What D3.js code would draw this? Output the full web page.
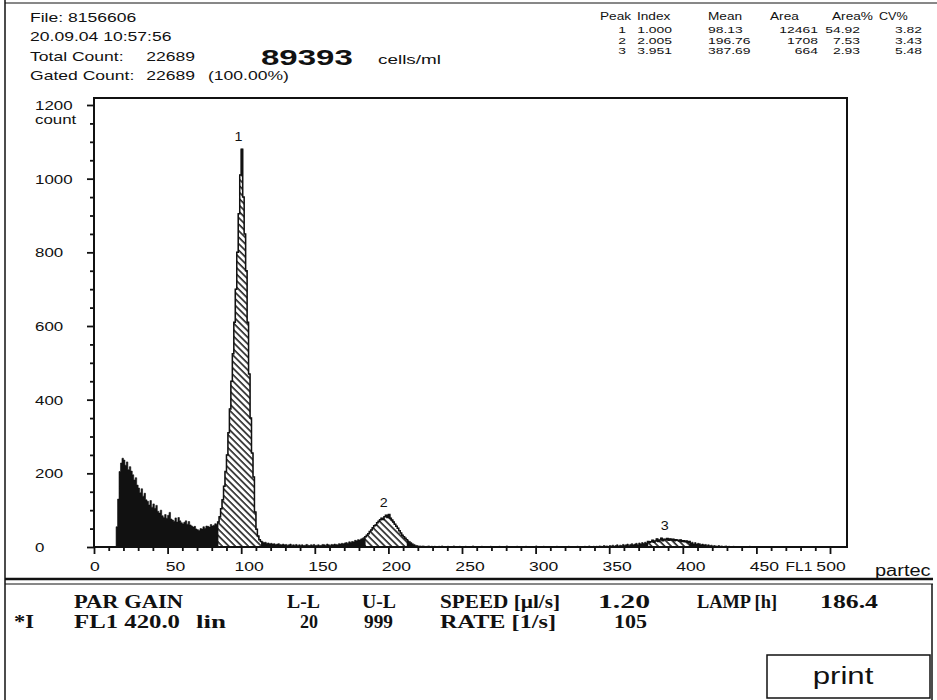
<!DOCTYPE html>
<html>
<head>
<meta charset="utf-8">
<script src="https://cdnjs.cloudflare.com/ajax/libs/d3/7.8.5/d3.min.js"></script>
<style>
  html, body { margin: 0; padding: 0; background: #fff; }
  svg { display: block; }
</style>
</head>
<body>
<svg id="chart" width="937" height="700"></svg>
<script>
// FL1 histogram, one count per channel, starting at FIRST_CHANNEL
const FIRST_CHANNEL = 14;

// debris (ch 14-83)
const debrisCounts = [
    0, 55, 130, 205, 228, 241, 236, 222, 231, 210,
    218, 206, 196, 182, 188, 168, 160, 147, 158, 138,
    146, 128, 124, 114, 126, 108, 117, 105, 113, 97,
    92, 100, 85, 80, 88, 78, 86, 94, 76, 73,
    70, 79, 68, 80, 71, 66, 63, 67, 71, 62,
    69, 60, 57, 54, 56, 49, 47, 45, 50, 49,
    55, 51, 57, 56, 54, 61, 57, 59, 63, 62
];
// G1 peak (ch 84-113)
const peak1Counts = [
    68, 82, 104, 128, 165, 205, 250, 310, 375, 450,
    525, 610, 700, 800, 905, 1010, 1080, 950, 850, 750,
    610, 470, 350, 255, 190, 95, 48, 30, 20, 15
];
// valley between peaks (ch 114-183)
const valleyCounts = [
    14, 12, 13, 10, 11, 9, 10, 8, 9, 7,
    8, 9, 7, 6, 8, 6, 7, 5, 6, 8,
    5, 6, 5, 7, 4, 6, 5, 6, 4, 5,
    7, 5, 4, 6, 5, 7, 4, 5, 6, 4,
    5, 7, 6, 5, 8, 6, 5, 7, 6, 8,
    7, 6, 9, 8, 10, 9, 11, 12, 10, 14,
    13, 15, 14, 18, 17, 20, 19, 22, 24, 26
];
// G2 peak (ch 184-220)
const peak2Counts = [
    28, 32, 36, 42, 46, 52, 58, 60, 66, 70,
    74, 78, 75, 82, 86, 80, 88, 78, 73, 68,
    62, 56, 51, 44, 38, 32, 28, 24, 20, 17,
    15, 12, 9, 7, 5, 4, 3
];
// flat tail (ch 221-340)
const tailCounts = [
    3, 2, 3, 2, 1, 2, 3, 1, 2, 1,
    2, 1, 0, 2, 1, 3, 1, 0, 1, 2,
    1, 0, 1, 3, 1, 0, 1, 2, 0, 1,
    0, 2, 1, 0, 1, 0, 3, 1, 0, 1,
    0, 1, 2, 0, 1, 0, 1, 0, 2, 1,
    0, 1, 0, 0, 2, 0, 1, 0, 0, 3,
    0, 1, 0, 0, 1, 0, 2, 0, 0, 1,
    0, 0, 2, 0, 1, 0, 0, 1, 0, 3,
    0, 1, 0, 0, 2, 0, 0, 1, 0, 0,
    1, 0, 0, 2, 0, 0, 1, 0, 0, 1,
    0, 2, 0, 0, 1, 0, 0, 2, 0, 1,
    0, 1, 2, 0, 1, 3, 1, 0, 2, 1
];
// third peak and end (ch 341-460)
const peak3Counts = [
    2, 1, 3, 2, 1, 4, 2, 3, 1, 4,
    3, 5, 2, 4, 6, 3, 5, 4, 7, 5,
    6, 8, 5, 7, 9, 6, 8, 10, 7, 11,
    9, 12, 10, 13, 11, 15, 12, 14, 18, 13,
    16, 22, 15, 19, 24, 17, 21, 20, 23, 18,
    22, 19, 21, 17, 20, 18, 16, 19, 15, 17,
    14, 16, 12, 15, 11, 13, 9, 12, 8, 10,
    9, 7, 8, 6, 7, 5, 6, 4, 5, 3,
    4, 3, 2, 4, 2, 3, 1, 2, 3, 1,
    2, 1, 0, 2, 1, 0, 1, 0, 1, 0,
    0, 1, 0, 0, 2, 0, 0, 1, 0, 0,
    0, 0, 1, 0, 0, 0, 0, 0, 0, 0
];

// peak statistics table
const peakNumbers = ['1', '2', '3'];
const peakIndex = ['1.000', '2.005', '3.951'];
const peakMean = ['98.13', '196.76', '387.69'];
const peakArea = ['12461', '1708', '664'];
const peakAreaPct = ['54.92', '7.53', '2.93'];
const peakCV = ['3.82', '3.43', '5.48'];
const peakGates = [[84, 113], [184, 212], [376, 404]];
const tableHeader = ['Peak', 'Index', 'Mean', 'Area', 'Area%', 'CV%'];

const xTickLabels = [0, 50, 100, 150, 200, 250, 300, 350, 400, 450, 500];
const yTickLabels = [0, 200, 400, 600, 800, 1000, 1200];

const fileLines = ['File: 8156606', '20.09.04  10:57:56'];
const totalCount = '22689';
const gatedCount = '22689';
const gatedPct = '(100.00%)';
const concentration = '89393';

const statusRow1 = ['PAR GAIN', 'L-L', 'U-L', 'SPEED [\u00b5l/s]', '1.20', 'LAMP [h]', '186.4'];
const statusRow2 = ['*I', 'FL1 420.0', 'lin', '20', '999', 'RATE  [1/s]', '105'];

// ---------------------------------------------------------------
const SANS = "'Liberation Sans', Arial, sans-serif";
const PANEL = "'Liberation Serif', 'Times New Roman', serif";
const INK = '#111';

const counts = [].concat(debrisCounts, peak1Counts, valleyCounts, peak2Counts, tailCounts, peak3Counts);
const bins = counts.map((n, i) => ({ ch: FIRST_CHANNEL + i, n }));

const svg = d3.select('#chart');
const defs = svg.append('defs');

const x = d3.scaleLinear().domain([0, 500]).range([94, 830]);
const y = d3.scaleLinear().domain([0, 1200]).range([547, 105]);
const plotRight = 847, plotTop = 98;

// stretched bitmap-ish text
function txt(g, s, tx, ty, size, opt = {}) {
    return g.append('text')
        .attr('transform', `translate(${tx},${ty}) scale(${opt.sx || 1.3},1)`)
        .attr('font-family', opt.family || SANS)
        .attr('font-size', size)
        .attr('font-weight', opt.weight || 'normal')
        .attr('text-anchor', opt.anchor || 'start')
        .attr('fill', INK)
        .text(s);
}

// hatch pattern for gated peaks
const pat = defs.append('pattern')
    .attr('id', 'hatch')
    .attr('patternUnits', 'userSpaceOnUse')
    .attr('width', 4.6).attr('height', 4.6)
    .attr('patternTransform', 'rotate(-45)');
pat.append('rect').attr('width', 4.6).attr('height', 4.6).attr('fill', '#fff');
pat.append('line')
    .attr('x1', 1).attr('y1', 0).attr('x2', 1).attr('y2', 4.6)
    .attr('stroke', INK).attr('stroke-width', 1.5);

// ---- outer frame
const frame = svg.append('g').attr('stroke', INK).attr('fill', 'none');
frame.append('line').attr('x1', 5).attr('y1', 0).attr('x2', 5).attr('y2', 700).attr('stroke-width', 1.5);
frame.append('line').attr('x1', 5).attr('y1', 3).attr('x2', 937).attr('y2', 3).attr('stroke-width', 1);
frame.append('line').attr('x1', 5).attr('y1', 579).attr('x2', 933).attr('y2', 579).attr('stroke-width', 2.5);
frame.append('line').attr('x1', 5).attr('y1', 584).attr('x2', 933).attr('y2', 584).attr('stroke-width', 1);
frame.append('line').attr('x1', 932).attr('y1', 584).attr('x2', 932).attr('y2', 700).attr('stroke-width', 1.5);

// ---- histogram
const area = d3.area()
    .curve(d3.curveStepAfter)
    .x(d => x(d.ch))
    .y0(y(0))
    .y1(d => y(d.n));

const last = bins[bins.length - 1];
svg.append('path')
    .datum(bins.concat([{ ch: last.ch + 1, n: last.n }]))
    .attr('d', area)
    .attr('fill', INK)
    .attr('stroke', INK)
    .attr('stroke-width', 0.6);

const peakG = svg.append('g');
peakGates.forEach(([lo, hi], i) => {
    const sel = bins.filter(d => d.ch >= lo && d.ch <= hi);
    const end = sel[sel.length - 1];
    peakG.append('path')
        .datum(sel.concat([{ ch: end.ch + 1, n: end.n }]))
        .attr('d', area)
        .attr('fill', 'url(#hatch)')
        .attr('stroke', INK)
        .attr('stroke-width', 1.5)
        .attr('stroke-linejoin', 'miter');
    const top = d3.max(sel, d => d.n);
    txt(peakG, peakNumbers[i], x(+peakMean[i]), y(top) - 8, 13, { anchor: 'middle', sx: 1.1 });
});

// ---- plot box and axes
svg.append('path')
    .attr('d', `M${x(0)},${plotTop}H${plotRight}V${y(0)}H${x(0)}Z`)
    .attr('fill', 'none')
    .attr('stroke', INK)
    .attr('stroke-width', 2);

const xAxisG = svg.append('g')
    .attr('transform', `translate(0,${y(0)})`)
    .call(d3.axisBottom(x).tickValues(d3.range(0, 501, 10)).tickSizeOuter(0).tickFormat(''));
xAxisG.select('.domain').remove();
xAxisG.selectAll('.tick line')
    .attr('stroke', INK)
    .attr('stroke-width', 1.8)
    .attr('y2', d => d % 50 === 0 ? 7 : 4);

const yAxisG = svg.append('g')
    .attr('transform', `translate(${x(0)},0)`)
    .call(d3.axisLeft(y).tickValues(d3.range(0, 1201, 50)).tickSizeOuter(0).tickFormat(''));
yAxisG.select('.domain').remove();
yAxisG.selectAll('.tick line')
    .attr('stroke', INK)
    .attr('stroke-width', 1.8)
    .attr('x2', d => d % 200 === 0 ? -7 : -4);

const labelG = svg.append('g');
xTickLabels.forEach(v => {
    const dx = v === 0 ? 1 : (v === 500 ? 1 : 8);
    txt(labelG, String(v), x(v) + dx, 571, 13, { anchor: 'middle', sx: 1.35 });
});
txt(labelG, 'FL1', 799, 571, 13, { anchor: 'middle', sx: 1.2 });
txt(labelG, 'partec', 875, 576, 16, { sx: 1.25 });

yTickLabels.forEach(v => {
    txt(labelG, String(v), 35, y(v) + 5, 13, { sx: 1.3 });
});
txt(labelG, 'count', 35, 124, 13, { sx: 1.3 });

// ---- header, left
const head = svg.append('g');
fileLines.forEach((s, i) => txt(head, s, 30, 22 + i * 19, 13, { sx: 1.35 }));
txt(head, 'Total Count:', 30, 61, 13, { sx: 1.35 });
txt(head, totalCount, 195, 61, 13, { sx: 1.35, anchor: 'end' });
txt(head, 'Gated Count:', 30, 80, 13, { sx: 1.35 });
txt(head, gatedCount, 195, 80, 13, { sx: 1.35, anchor: 'end' });
txt(head, gatedPct, 208, 80, 13, { sx: 1.35 });
txt(head, concentration, 261, 65, 22, { sx: 1.5, weight: 'bold' });
txt(head, 'cells/ml', 378, 64, 13.5, { sx: 1.4 });

// ---- header, peak table
const tbl = svg.append('g');
const headerX = [600, 637, 708, 770, 832, 879];
tableHeader.forEach((s, i) => txt(tbl, s, headerX[i], 20, 10.5, { sx: i === 5 ? 1.2 : 1.3 }));
peakNumbers.forEach((p, i) => {
    const by = 33 + i * 10.5;
    const o = { sx: 1.45, anchor: 'end' };
    txt(tbl, p, 626, by, 9.6, o);
    txt(tbl, peakIndex[i], 672, by, 9.6, o);
    txt(tbl, peakMean[i], 708, by, 9.6, { sx: 1.45 });
    txt(tbl, peakArea[i], 818, by, 9.6, o);
    txt(tbl, peakAreaPct[i], 860, by, 9.6, o);
    txt(tbl, peakCV[i], 922, by, 9.6, o);
});

// ---- status panel
const stat = svg.append('g');
const row1Span = [[74, 183], [287, 320], [362, 396], [440, 560], [598, 650], [697, 777], [820, 878]];
const row2Span = [[14, 34], [74, 180], [196, 226], [300, 318], [364, 393], [440, 556], [614, 647]];
function panelRow(words, spans, by) {
    words.forEach((s, i) => {
        const [a, b] = spans[i];
        stat.append('text')
            .attr('x', a).attr('y', by)
            .attr('font-family', PANEL)
            .attr('font-size', 19)
            .attr('font-weight', 'bold')
            .attr('fill', INK)
            .attr('textLength', b - a)
            .attr('lengthAdjust', 'spacingAndGlyphs')
            .text(s);
    });
}
panelRow(statusRow1, row1Span, 608);
panelRow(statusRow2, row2Span, 628);

// print button
stat.append('rect')
    .attr('x', 767).attr('y', 655).attr('width', 163).attr('height', 43)
    .attr('fill', '#fff').attr('stroke', INK).attr('stroke-width', 1.5);
txt(stat, 'print', 843, 684, 24, { anchor: 'middle', sx: 1.3 });
</script>
</body>
</html>
